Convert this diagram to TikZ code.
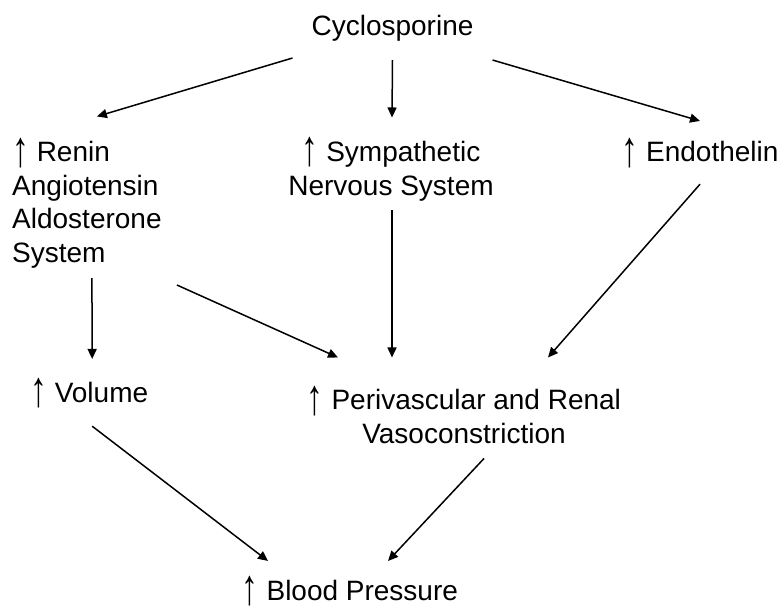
\documentclass[tikz,border=0pt]{standalone}
\usepackage{fontspec}
\usepackage{graphicx}
\setmainfont{Liberation Sans}
\newcommand{\incr}{\raisebox{-4.5pt}{\scalebox{1.2}[1.8]{↑}}}
\usetikzlibrary{arrows.meta,calc}
\tikzset{
  lbl/.style={inner sep=0pt, font=\fontsize{28}{33.5}\selectfont},
  arr/.style={line width=1.5pt, -{Triangle[length=10pt,width=9pt]}}
}
\begin{document}
\begin{tikzpicture}[x=1pt,y=-1pt]
\useasboundingbox (0,0) rectangle (782,607);
% last line baselines for the stacked labels
\node[lbl, anchor=base] (cyc) at (392.5,36){Cyclosporine};
\node[lbl, anchor=base west, align=left] (raas) at (12,262){\incr\ Renin\\Angiotensin\\Aldosterone\\System};
\node[lbl, anchor=base, align=center] (symp) at (391,195){\incr\ Sympathetic\\Nervous System};
\node[lbl, anchor=base] (endo) at (700,162){\incr\ Endothelin};
\node[lbl, anchor=base west] (vol) at (30,402){\incr\ Volume};
\node[lbl, anchor=base, align=center] (peri) at (464,443){\incr\ Perivascular and Renal\\Vasoconstriction};
\node[lbl, anchor=base] (bp) at (350,600){\incr\ Blood Pressure};
\draw[arr] ($(cyc.south)+(-100,16)$) -- ($(raas.north)+(10,-21)$);
\draw[arr] ($(cyc.south)+(0,18)$) -- ($(symp.north)+(1,-20)$);
\draw[arr] ($(cyc.south)+(100,18)$) -- ($(endo.north)+(0,-17)$);
\draw[arr] ($(raas.south)+(5,10)$) -- ($(vol.north)+(3,-19)$);
\draw[arr] ($(raas.south)+(90,17)$) -- ($(peri.north)+(-126,-28)$);
\draw[arr] ($(symp.south)+(1,9)$) -- ($(peri.north)+(-72,-28)$);
\draw[arr] ($(endo.south)+(0,16)$) -- ($(peri.north)+(84,-28)$);
\draw[arr] ($(vol.south)+(3,18)$) -- ($(bp.north)+(-82,-15)$);
\draw[arr] ($(peri.south)+(20,15)$) -- ($(bp.north)+(38,-15)$);
\end{tikzpicture}
\end{document}
